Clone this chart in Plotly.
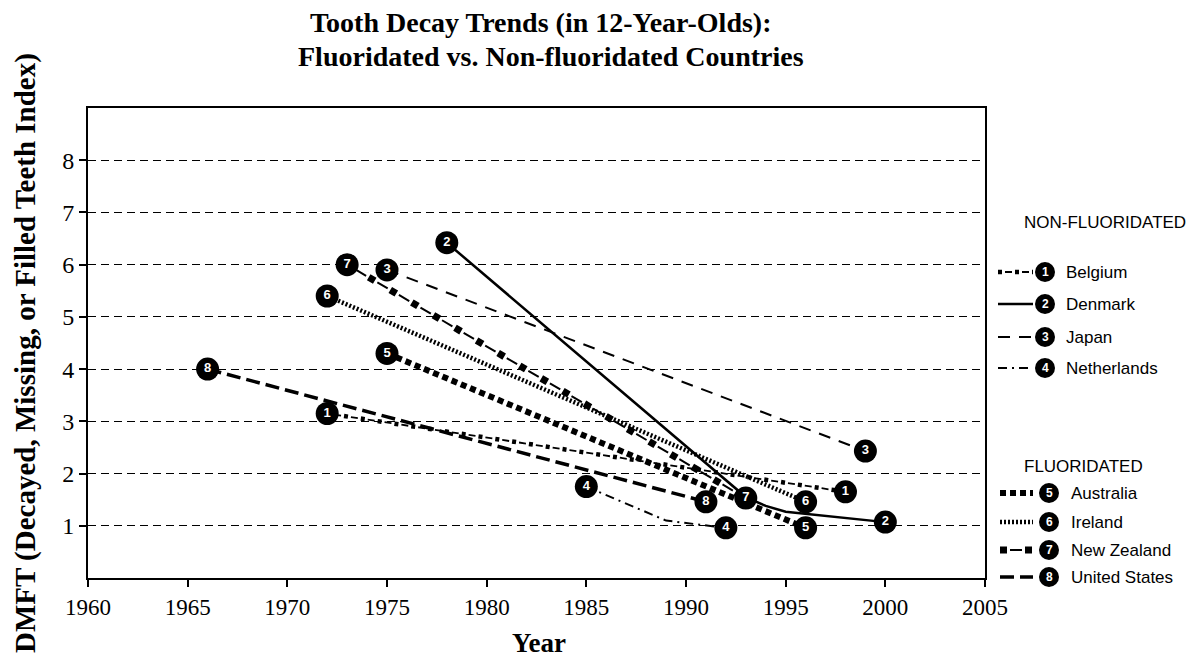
import plotly.graph_objects as go

# ---------------- data ----------------
countries = ["Belgium", "Denmark", "Japan", "Netherlands",
             "Australia", "Ireland", "New Zealand", "United States"]
numbers = ["1", "2", "3", "4", "5", "6", "7", "8"]

belgium_years = [1972, 1998]
belgium_dmft = [3.15, 1.65]
denmark_years = [1978, 1993, 1994, 1995, 2000]
denmark_dmft = [6.42, 1.55, 1.38, 1.27, 1.07]
japan_years = [1975, 1999]
japan_dmft = [5.9, 2.43]
netherlands_years = [1985, 1989, 1992]
netherlands_dmft = [1.75, 1.1, 0.96]
australia_years = [1975, 1996]
australia_dmft = [4.3, 0.96]
ireland_years = [1972, 1996]
ireland_dmft = [5.4, 1.46]
newzealand_years = [1973, 1993]
newzealand_dmft = [6.0, 1.53]
us_years = [1966, 1991]
us_dmft = [4.0, 1.46]

x_ticks = [1960, 1965, 1970, 1975, 1980, 1985, 1990, 1995, 2000, 2005]
y_ticks = [1, 2, 3, 4, 5, 6, 7, 8]

series_x = [belgium_years, denmark_years, japan_years, netherlands_years,
            australia_years, ireland_years, newzealand_years, us_years]
series_y = [belgium_dmft, denmark_dmft, japan_dmft, netherlands_dmft,
            australia_dmft, ireland_dmft, newzealand_dmft, us_dmft]

# line styles: list of (width, dash) layers per series
styles = [
    [(1.8, "0px,7px,7px,3px"), (4.5, "4px,13px")],        # Belgium
    [(2.5, "solid")],                                       # Denmark
    [(2.0, "12px,9px")],                                    # Japan
    [(2.0, "9px,5px,2px,5px")],                             # Netherlands
    [(6.0, "6px,4px")],                                     # Australia
    [(4.5, "2px,2px")],                                     # Ireland
    [(2.0, "0px,10px,12px,3px"), (7.0, "7px,18px")],        # New Zealand
    [(3.5, "14px,6px")],                                    # United States
]

W, H = 1199, 661
L, R, T, B = 88, 985, 108, 578

fig = go.Figure()

for xs, ys, st, name in zip(series_x, series_y, styles, countries):
    for w, d in st:
        fig.add_trace(go.Scatter(x=xs, y=ys, mode="lines", name=name,
                                 line=dict(color="black", width=w, dash=d),
                                 showlegend=False, hoverinfo="skip"))

for xs, ys, num in zip(series_x, series_y, numbers):
    fig.add_trace(go.Scatter(
        x=[xs[0], xs[-1]], y=[ys[0], ys[-1]], mode="markers+text",
        marker=dict(size=23, color="black"),
        text=[num, num], textposition="middle center",
        textfont=dict(color="white", size=13, family="Liberation Sans", weight="bold"),
        showlegend=False, hoverinfo="skip"))


def px_x(p):
    return (p - L) / (R - L)


def px_y(p):
    return (B - p) / (B - T)


shapes = []
annotations = []

legend_groups = [
    ("NON-FLUORIDATED", 222, [0, 1, 2, 3], [272, 304, 337, 368], 998, 1033, 1045, 1064),
    ("FLUORIDATED", 467, [4, 5, 6, 7], [493, 522, 550, 577], 1000, 1033, 1049, 1069),
]
for header, hy, idxs, rows, sx0, sx1, cx, lx in legend_groups:
    annotations.append(dict(text=header, x=px_x(1022), y=px_y(hy), xref="paper", yref="paper",
                            xanchor="left", yanchor="middle", showarrow=False,
                            font=dict(family="Liberation Sans", size=17, color="black")))
    for i, ry in zip(idxs, rows):
        for w, d in styles[i]:
            shapes.append(dict(type="line", xref="paper", yref="paper",
                               x0=px_x(sx0), x1=px_x(sx1), y0=px_y(ry), y1=px_y(ry),
                               line=dict(color="black", width=w, dash=d)))
        shapes.append(dict(type="circle", xref="paper", yref="paper",
                           x0=px_x(cx - 10), x1=px_x(cx + 10), y0=px_y(ry + 10), y1=px_y(ry - 10),
                           fillcolor="black", line=dict(color="black", width=0)))
        annotations.append(dict(text=numbers[i], x=px_x(cx), y=px_y(ry), xref="paper", yref="paper",
                                xanchor="center", yanchor="middle", showarrow=False,
                                font=dict(family="Liberation Sans", size=12, color="white", weight="bold")))
        annotations.append(dict(text=countries[i], x=px_x(lx), y=px_y(ry), xref="paper", yref="paper",
                                xanchor="left", yanchor="middle", showarrow=False,
                                font=dict(family="Liberation Sans", size=17, color="black")))

# title
annotations.append(dict(text="<b>Tooth Decay Trends (in 12-Year-Olds):</b>",
                        x=px_x(541), y=px_y(22), xref="paper", yref="paper",
                        showarrow=False, xanchor="center", yanchor="middle",
                        font=dict(family="Liberation Serif", size=28, color="black")))
annotations.append(dict(text="<b>Fluoridated vs. Non-fluoridated Countries</b>",
                        x=px_x(551), y=px_y(57), xref="paper", yref="paper",
                        showarrow=False, xanchor="center", yanchor="middle",
                        font=dict(family="Liberation Serif", size=28, color="black")))

# axis titles
annotations.append(dict(text="<b>DMFT (Decayed, Missing, or Filled Teeth Index)</b>",
                        x=px_x(25), y=px_y(353), xref="paper", yref="paper",
                        textangle=-90, showarrow=False, xanchor="center", yanchor="middle",
                        font=dict(family="Liberation Serif", size=29, color="black")))
annotations.append(dict(text="<b>Year</b>", x=px_x(539), y=px_y(643), xref="paper", yref="paper",
                        showarrow=False, xanchor="center", yanchor="middle",
                        font=dict(family="Liberation Serif", size=27, color="black")))

fig.update_layout(
    width=W, height=H,
    margin=dict(l=L, r=W - R, t=T, b=H - B),
    paper_bgcolor="white", plot_bgcolor="white",
    shapes=shapes, annotations=annotations,
    xaxis=dict(range=[1960, 2005], tickvals=x_ticks, ticktext=[str(v) for v in x_ticks],
               showgrid=False, zeroline=False, showline=True, linecolor="black", linewidth=2,
               mirror=True, ticks="outside", ticklen=7, tickwidth=1.5, tickcolor="black",
               tickfont=dict(family="Liberation Serif", size=23, color="black")),
    yaxis=dict(range=[0, 9], tickvals=y_ticks, ticktext=[str(v) for v in y_ticks],
               showgrid=True, gridcolor="black", gridwidth=1.3, griddash="8px,5px",
               zeroline=False, showline=True, linecolor="black", linewidth=2,
               mirror=True, ticks="outside", ticklen=7, tickwidth=1.5, tickcolor="black",
               tickfont=dict(family="Liberation Serif", size=24, color="black")),
)

fig.write_html("out.html", config={"displayModeBar": False},
               post_script="document.body.style.margin='0';document.body.style.overflow='hidden';")
